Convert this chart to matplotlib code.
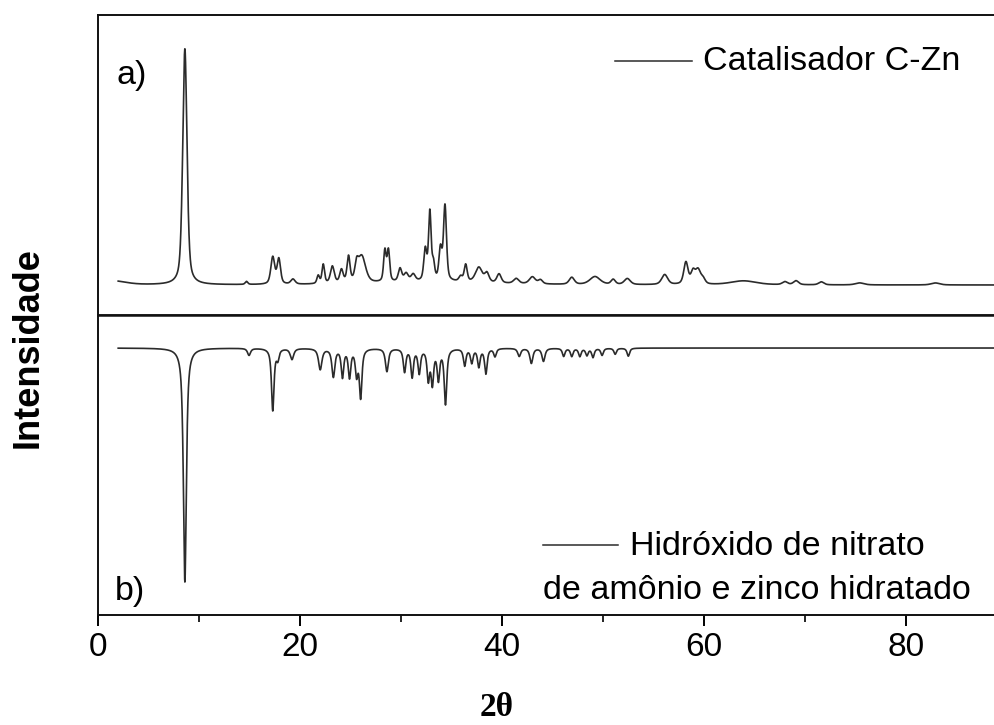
import numpy as np
import matplotlib.pyplot as plt

plt.rcParams["font.family"] = ["Liberation Sans", "DejaVu Sans"]

# --- peaks: position (2theta), height (a.u.), FWHM (deg) ---
# a) Catalisador C-Zn
cat_pos = [1.5, 8.6, 14.7, 17.3, 17.9, 19.3, 21.8, 22.3, 23.2, 24.1, 24.8, 25.6,
           26.1, 28.4, 28.75, 29.9, 30.5, 31.2, 32.4, 32.85, 33.2, 33.9, 34.35,
           35.9, 36.4, 37.7, 38.5, 39.7, 41.4, 43.0, 43.8, 46.9, 49.2, 51.0, 52.4,
           56.1, 58.2, 58.9, 59.4, 59.9, 63.9, 68.0, 69.1, 71.6, 75.4, 82.9, 33.0]
cat_int = [4, 236, 3, 27, 25, 5, 8, 19, 17, 13, 26, 14,
           27, 31, 31, 13, 8, 7, 31, 68, 16, 31, 75,
           5, 17, 15, 9, 9, 5, 7, 4, 7, 8, 5, 6,
           10, 22, 12, 14, 5, 4, 3, 4, 3, 2, 2, 3]
cat_fwhm = [3.0, 0.5, 0.3, 0.45, 0.4, 0.5, 0.3, 0.3, 0.45, 0.4, 0.35, 0.4,
            0.9, 0.3, 0.3, 0.4, 0.5, 0.5, 0.35, 0.3, 0.3, 0.35, 0.35,
            0.4, 0.35, 0.8, 0.5, 0.5, 0.6, 0.7, 0.5, 0.6, 1.2, 0.5, 0.7,
            0.7, 0.5, 0.5, 0.6, 0.5, 3.0, 0.6, 0.6, 0.6, 1.0, 1.0, 14.0]

# b) Hidroxido de nitrato de amonio e zinco hidratado (reference, inverted)
ref_pos = [8.6, 14.95, 17.3, 17.8, 19.2, 22.0, 23.3, 24.2, 24.9, 25.6, 26.0,
           28.6, 30.35, 31.1, 31.8, 32.7, 33.1, 33.7, 34.4, 36.3, 37.0, 37.7,
           38.4, 39.3, 41.7, 42.9, 44.1, 46.1, 46.9, 47.7, 48.4, 49.0, 49.9,
           51.2, 52.5]
ref_int = [234, 7, 62, 10, 11, 21, 28, 28, 28, 25, 48,
           23, 23, 28, 24, 30, 34, 30, 55, 17, 14, 18,
           25, 8, 8, 15, 13, 8, 8, 8, 7, 9, 7,
           6, 8]
ref_fwhm = [0.35, 0.35, 0.3, 0.3, 0.4, 0.4, 0.35, 0.3, 0.3, 0.3, 0.3,
            0.35, 0.3, 0.3, 0.3, 0.3, 0.3, 0.3, 0.3, 0.3, 0.3, 0.3,
            0.3, 0.3, 0.35, 0.35, 0.35, 0.3, 0.3, 0.3, 0.3, 0.3, 0.3,
            0.3, 0.3]

TRACE_COLOR = "#2b2b2b"


def pseudo_voigt(x, pos, height, fwhm, eta):
    y = np.zeros_like(x)
    for p, h, w in zip(pos, height, fwhm):
        lor = 1.0 / (1.0 + ((x - p) / (w / 2)) ** 2)
        gau = np.exp(-4 * np.log(2) * ((x - p) / w) ** 2)
        y += h * (eta * lor + (1 - eta) * gau)
    return y


two_theta = np.linspace(2.0, 90.0, 8000)
y_cat = pseudo_voigt(two_theta, cat_pos, cat_int, cat_fwhm, 0.5)
y_ref = -pseudo_voigt(two_theta, ref_pos, ref_int, ref_fwhm, 0.8)

fig = plt.figure(figsize=(9.94, 7.25), dpi=100)
left, width = 98 / 994, 1 - 98 / 994
ax_a = fig.add_axes([left, 0.5655, width, 0.4138])
ax_b = fig.add_axes([left, 0.1517, width, 0.4138])

ax_a.plot(two_theta, y_cat, color=TRACE_COLOR, lw=1.2)
ax_b.plot(two_theta, y_ref, color=TRACE_COLOR, lw=1.2)

ax_a.set_ylim(-30, 270)
ax_b.set_ylim(-267, 33)
for ax in (ax_a, ax_b):
    ax.set_xlim(0, 88.7)
    ax.set_yticks([])
    ax.spines["right"].set_visible(False)
    for side in ("left", "top", "bottom"):
        ax.spines[side].set_linewidth(1.4)
        ax.spines[side].set_color("#111111")
ax_a.spines["bottom"].set_linewidth(1.8)
ax_b.spines["top"].set_linewidth(1.8)

ax_a.tick_params(axis="x", which="both", bottom=False, labelbottom=False)
ax_b.set_xticks([0, 20, 40, 60, 80])
ax_b.set_xticks([10, 30, 50, 70], minor=True)
ax_b.tick_params(axis="x", which="major", direction="out", length=8, width=1.4, labelsize=24, pad=4)
ax_b.tick_params(axis="x", which="minor", direction="out", length=5, width=1.2)

# panel labels
ax_a.text(0.021, 0.798, "a)", transform=ax_a.transAxes, fontsize=24.5, va="center")
ax_b.text(0.019, 0.08, "b)", transform=ax_b.transAxes, fontsize=24.5, va="center")

# legend-style annotations
ax_a.plot([0.577, 0.663], [0.847, 0.847], color=TRACE_COLOR, lw=1.1, transform=ax_a.transAxes)
ax_a.text(0.675, 0.845, "Catalisador C-Zn", transform=ax_a.transAxes, fontsize=24.5, va="center")

ax_b.plot([0.497, 0.580], [0.233, 0.233], color=TRACE_COLOR, lw=1.1, transform=ax_b.transAxes)
ax_b.text(0.594, 0.227, "Hidróxido de nitrato", transform=ax_b.transAxes, fontsize=24.5, va="center")
ax_b.text(0.497, 0.083, "de amônio e zinco hidratado", transform=ax_b.transAxes, fontsize=24.5, va="center")

fig.text(0.028, 0.521, "Intensidade", rotation=90, fontsize=26, fontweight="bold", ha="center", va="center")
fig.text(0.5, 0.024, "2θ", fontsize=24, fontweight="bold", family=["Liberation Serif", "DejaVu Serif"],
         ha="center", va="center")

fig.savefig("out.png", dpi=100)
